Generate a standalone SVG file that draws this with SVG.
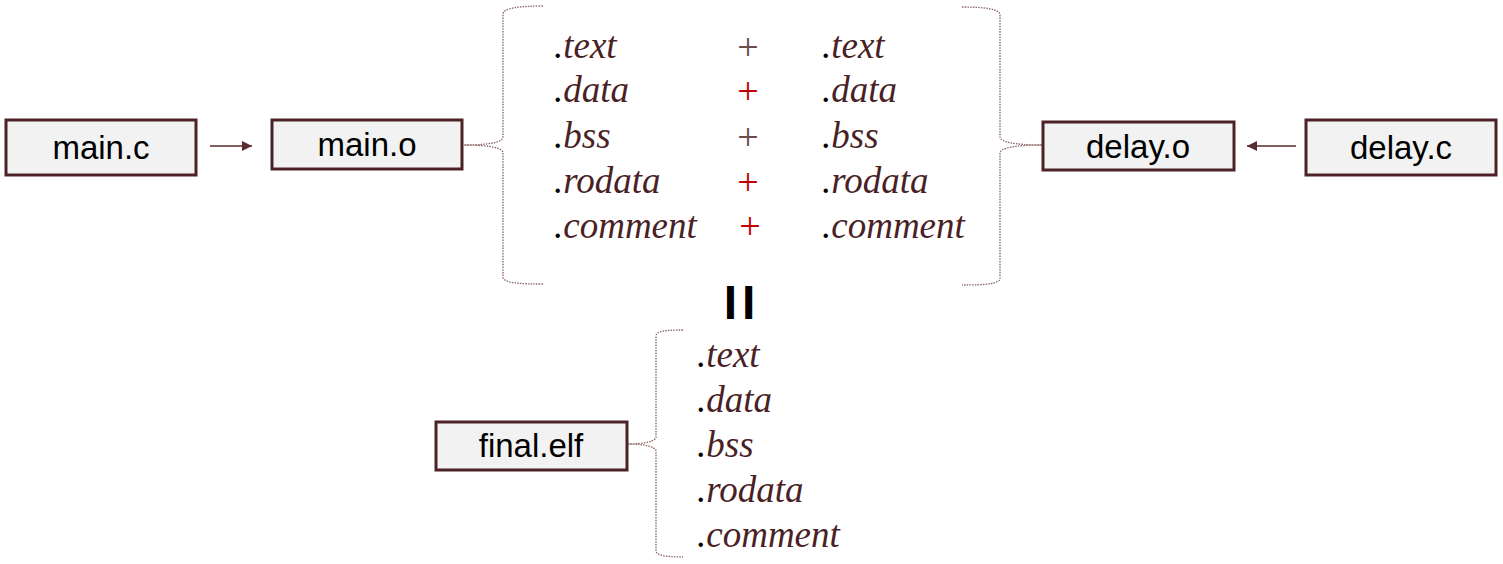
<svg xmlns="http://www.w3.org/2000/svg" width="1503" height="564" viewBox="0 0 1503 564">
<style>
.box{fill:#f2f2f2;stroke:#4d2226;stroke-width:3}
.lbl{font-family:"Liberation Sans",Arial,sans-serif;font-size:33px;fill:#000;text-anchor:middle}
.sec{font-family:"Liberation Serif","Times New Roman",serif;font-style:italic;font-size:37px;fill:#4a1f26}
.dot{fill:#000}
.plus{font-family:"Liberation Serif","Times New Roman",serif;font-size:38px;text-anchor:middle}
.pr{fill:#c00000}
.pg{fill:#6e4a4a}
.conn{stroke:#5a2a30;stroke-width:1.5;fill:none}
.brace{stroke:#8a6464;stroke-width:1.3;fill:none;stroke-dasharray:1.5 1.2}
.eq{font-family:"Liberation Sans",Arial,sans-serif;font-weight:bold;font-size:48px;fill:#000;text-anchor:middle;letter-spacing:5px}
</style>
<defs>
<marker id="ah" viewBox="0 0 10 10" refX="10" refY="5" markerWidth="10" markerHeight="10" markerUnits="userSpaceOnUse" orient="auto">
<path d="M0,0 L10,5 L0,10 z" fill="#5a2a30"/>
</marker>
</defs>
<g id="connectors">
<line class="conn" x1="210" y1="146" x2="252" y2="146" marker-end="url(#ah)"/>
<line class="conn" x1="1296" y1="146" x2="1247" y2="146" marker-end="url(#ah)"/>
<path class="brace" d="M543,6 C520,6 503,8 503,14 L503,137 C503,142 490,145 464,145 C490,145 503,148 503,153 L503,277 C503,283 520,284 543,284"/>
<path class="brace" d="M962,7 C985,7 1000,9 1000,15 L1000,137 C1000,142 1015,145 1042,145 C1015,145 1000,148 1000,153 L1000,278 C1000,284 985,285 962,285"/>
<path class="brace" d="M683,330 C665,330 656,331 656,336 L656,437 C656,441 645,444 628,444 C645,444 656,447 656,451 L656,551 C656,555 665,557 683,557"/>
</g>
<g id="main_c"><rect class="box" x="6" y="120" width="190" height="55"/><text class="lbl" x="101" y="159">main.c</text></g>
<g id="main_o"><rect class="box" x="272" y="120" width="190" height="49"/><text class="lbl" x="367" y="156">main.o</text></g>
<g id="delay_o"><rect class="box" x="1043" y="122" width="191" height="48"/><text class="lbl" x="1138" y="158">delay.o</text></g>
<g id="delay_c"><rect class="box" x="1306" y="120" width="190" height="55"/><text class="lbl" x="1401" y="159">delay.c</text></g>
<g id="final_elf"><rect class="box" x="436" y="422" width="191" height="48"/><text class="lbl" x="531" y="457">final.elf</text></g>
<g id="left_sections">
<text class="sec" x="554" y="58"><tspan class="dot">.</tspan>text</text>
<text class="sec" x="554" y="102"><tspan class="dot">.</tspan>data</text>
<text class="sec" x="554" y="148"><tspan class="dot">.</tspan>bss</text>
<text class="sec" x="554" y="193"><tspan class="dot">.</tspan>rodata</text>
<text class="sec" x="554" y="238"><tspan class="dot">.</tspan>comment</text>
</g>
<g id="plus_signs">
<text class="plus pg" x="748" y="60">+</text>
<text class="plus pr" x="748" y="104">+</text>
<text class="plus pg" x="748" y="150">+</text>
<text class="plus pr" x="748" y="195">+</text>
<text class="plus pr" x="750" y="239">+</text>
</g>
<g id="right_sections">
<text class="sec" x="822" y="58"><tspan class="dot">.</tspan>text</text>
<text class="sec" x="822" y="102"><tspan class="dot">.</tspan>data</text>
<text class="sec" x="822" y="148"><tspan class="dot">.</tspan>bss</text>
<text class="sec" x="822" y="193"><tspan class="dot">.</tspan>rodata</text>
<text class="sec" x="822" y="238"><tspan class="dot">.</tspan>comment</text>
</g>
<g id="equals"><text class="eq" x="742" y="319">II</text></g>
<g id="final_sections">
<text class="sec" x="697" y="367"><tspan class="dot">.</tspan>text</text>
<text class="sec" x="697" y="412"><tspan class="dot">.</tspan>data</text>
<text class="sec" x="697" y="457"><tspan class="dot">.</tspan>bss</text>
<text class="sec" x="697" y="502"><tspan class="dot">.</tspan>rodata</text>
<text class="sec" x="697" y="547"><tspan class="dot">.</tspan>comment</text>
</g>
</svg>
